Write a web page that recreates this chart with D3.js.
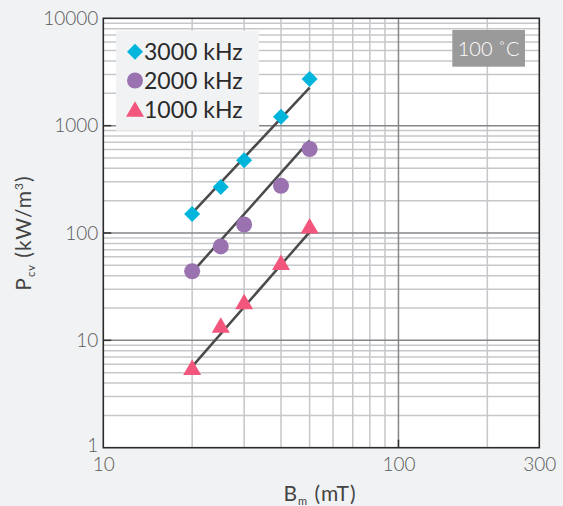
<!DOCTYPE html>
<html><head><meta charset="utf-8">
<script src="https://cdn.jsdelivr.net/npm/d3@7"></script>
<style>
html,body{margin:0;padding:0;background:#f1f2f4;}
svg{display:block;font-family:Lato,"Noto Sans",sans-serif;}
</style></head>
<body><svg id="c" width="563" height="506"></svg>
<script>
// ---- data ----
const seriesNames = ["3000 kHz", "2000 kHz", "1000 kHz"];
const bValues = [20, 25, 30, 40, 50];           // Bm (mT)
const p3000 = [150, 268, 476, 1210, 2720];     // Pcv (kW/m3)
const p2000 = [44, 75, 120, 275, 606];
const p1000 = [5.6, 13.8, 22.9, 53, 116];
const fitB = [20, 50];
const fit3000 = [153, 2260];
const fit2000 = [43, 724];
const fit1000 = [5.7, 102];
const xTickLabels = [10, 100, 300];
const yTickLabels = [1, 10, 100, 1000, 10000];
const tempLabel = "100 ˚C";

const colors = ["#00b5dc", "#9a72b0", "#f2567c"];
const shapes = ["diamond", "circle", "triangle"];
const pts = [p3000, p2000, p1000];
const fits = [fit3000, fit2000, fit1000];

const svg = d3.select("#c");
const L = 103.3, R = 539.3, T = 18.3, B = 447.7;
const x = d3.scaleLog().domain([10, 300]).range([L, R]);
const y = d3.scaleLog().domain([1, 10000]).range([B, T]);

svg.append("rect").attr("x", L).attr("y", T).attr("width", R - L).attr("height", B - T).attr("fill", "#fff");

// minor grid
const xMinor = [20,30,40,50,60,70,80,90,200];
const yMinor = [];
[1,10,100,1000].forEach(d => { for (let k = 2; k <= 9; k++) yMinor.push(d * k); });
const g = svg.append("g");
g.selectAll(".xm").data(xMinor).join("line")
  .attr("x1", d => x(d)).attr("x2", d => x(d)).attr("y1", T).attr("y2", B)
  .attr("stroke", "#c6c7ca").attr("stroke-width", 1.5);
g.selectAll(".ym").data(yMinor).join("line")
  .attr("y1", d => y(d)).attr("y2", d => y(d)).attr("x1", L).attr("x2", R)
  .attr("stroke", "#c6c7ca").attr("stroke-width", 1.5);
// major grid
g.selectAll(".xM").data([100]).join("line")
  .attr("x1", d => x(d)).attr("x2", d => x(d)).attr("y1", T).attr("y2", B)
  .attr("stroke", "#85868a").attr("stroke-width", 1.5);
g.selectAll(".yM").data([10,100,1000]).join("line")
  .attr("y1", d => y(d)).attr("y2", d => y(d)).attr("x1", L).attr("x2", R)
  .attr("stroke", "#85868a").attr("stroke-width", 1.5);
// inner ticks
g.selectAll(".yt").data([10,100,1000]).join("line")
  .attr("y1", d => y(d)).attr("y2", d => y(d)).attr("x1", L).attr("x2", L + 8)
  .attr("stroke", "#333").attr("stroke-width", 1.5);
g.selectAll(".xt").data([100]).join("line")
  .attr("x1", d => x(d)).attr("x2", d => x(d)).attr("y1", B).attr("y2", B - 8)
  .attr("stroke", "#333").attr("stroke-width", 1.5);

svg.append("rect").attr("x", L).attr("y", T).attr("width", R - L).attr("height", B - T)
  .attr("fill", "none").attr("stroke", "#2b2b2b").attr("stroke-width", 1.6);

// axes labels
const yAxis = d3.axisLeft(y).tickValues(yTickLabels).tickFormat(d3.format("d")).tickSize(0).tickPadding(5);
const ya = svg.append("g").attr("transform", `translate(${L},0)`).call(yAxis);
ya.select(".domain").remove();
ya.selectAll("text").attr("font-size", 19).attr("fill", "#5a5a5a").attr("font-family", "Lato,sans-serif").attr("font-weight", 300);
ya.selectAll(".tick").filter(d => d === 1).select("text").attr("dy", "0.2em");
const xAxis = d3.axisBottom(x).tickValues(xTickLabels).tickFormat(d3.format("d")).tickSize(0).tickPadding(10);
const xa = svg.append("g").attr("transform", `translate(0,${B})`).call(xAxis);
xa.select(".domain").remove();
xa.selectAll("text").attr("font-size", 19).attr("fill", "#5a5a5a").attr("font-family", "Lato,sans-serif").attr("font-weight", 300);

// axis titles
const xt = svg.append("text").attr("x", 320).attr("y", 501).attr("text-anchor", "middle")
  .attr("font-size", 21).attr("letter-spacing", 1).attr("fill", "#444");
xt.append("tspan").text("B");
xt.append("tspan").text("m").attr("font-size", 11).attr("dy", 4);
xt.append("tspan").text(" (mT)").attr("dy", -4);
const yt = svg.append("text").attr("transform", "translate(31,233) rotate(-90)").attr("text-anchor", "middle")
  .attr("font-size", 21).attr("letter-spacing", 1).attr("fill", "#444");
yt.append("tspan").text("P");
yt.append("tspan").text("cv").attr("font-size", 11).attr("dy", 4);
yt.append("tspan").text(" (kW/m").attr("dy", -4);
yt.append("tspan").text("3").attr("font-size", 12).attr("dy", -8);
yt.append("tspan").text(")").attr("dy", 8);

// fit lines
const line = d3.line().x(d => x(d[0])).y(d => y(d[1]));
fits.forEach(f => {
  svg.append("path").attr("d", line(fitB.map((b, i) => [b, f[i]])))
    .attr("fill", "none").attr("stroke", "#4a4a4a").attr("stroke-width", 2.5);
});

function shapePath(shape) {
  if (shape === "diamond") return "M0,-8L8,0L0,8L-8,0Z";
  if (shape === "circle") return d3.symbol(d3.symbolCircle, Math.PI * 8 * 8)();
  return "M0,-8L9,7.5L-9,7.5Z";
}
pts.forEach((p, si) => {
  svg.append("g").selectAll("path").data(p.map((v, i) => [bValues[i], v])).join("path")
    .attr("d", shapePath(shapes[si]))
    .attr("transform", d => `translate(${x(d[0])},${y(d[1])})`)
    .attr("fill", colors[si]);
});

// legend
const lg = svg.append("g");
lg.append("rect").attr("x", 116).attr("y", 30.7).attr("width", 143).attr("height", 100).attr("fill", "#f1f2f4");
seriesNames.forEach((n, i) => {
  const cy = 51.7 + i * 28.8;
  lg.append("path").attr("d", shapePath(shapes[i])).attr("transform", `translate(135,${cy})`).attr("fill", colors[i]);
  lg.append("text").attr("x", 144).attr("y", cy).attr("dy", "0.36em").attr("font-size", 23)
    .attr("fill", "#2a2a2a").text(n);
});

// temperature box
svg.append("rect").attr("x", 452.3).attr("y", 30).attr("width", 72.7).attr("height", 36.7).attr("fill", "#9a9a9a");
svg.append("text").attr("x", 488.6).attr("y", 48.5).attr("dy", "0.36em").attr("text-anchor", "middle")
  .attr("font-size", 20).attr("font-weight", 300).attr("fill", "#fff").text(tempLabel);
</script></body></html>
